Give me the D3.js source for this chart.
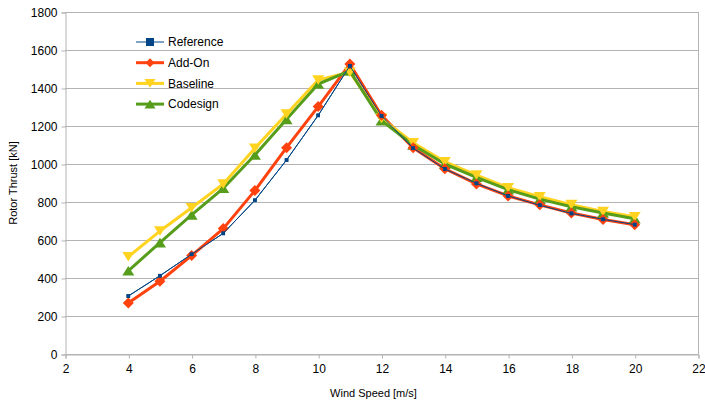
<!DOCTYPE html>
<html>
<head>
<meta charset="utf-8">
<script src="https://cdn.jsdelivr.net/npm/d3@7.9.0/dist/d3.min.js"></script>
<style>
  body { margin: 0; background: #fff; }
  svg text { font-family: "Liberation Sans", Arial, sans-serif; fill: #000; }
</style>
</head>
<body>
<svg id="chart" width="705" height="403"></svg>
<script>
// wind speeds (m/s)
const windSpeed = [4, 5, 6, 7, 8, 9, 10, 11, 12, 13, 14, 15, 16, 17, 18, 19, 20];

// rotor thrust (kN) per design
const reference = [305, 412, 525, 635, 809, 1021, 1256, 1517, 1253, 1083, 974, 898, 832, 783, 740, 709, 681];
const addOn     = [268, 383, 518, 660, 860, 1086, 1302, 1526, 1256, 1085, 975, 895, 832, 785, 742, 708, 680];
const baseline  = [512, 647, 770, 895, 1083, 1263, 1442, 1483, 1240, 1112, 1012, 942, 875, 828, 786, 750, 722];
const codesign  = [438, 586, 732, 872, 1047, 1235, 1421, 1490, 1228, 1100, 1000, 930, 865, 815, 775, 742, 712];

const xTicks = [2, 4, 6, 8, 10, 12, 14, 16, 18, 20, 22];
const yTicks = [0, 200, 400, 600, 800, 1000, 1200, 1400, 1600, 1800];

const series = [
  { name: 'Reference', values: reference, color: '#004586', width: 1, marker: 'square' },
  { name: 'Add-On', values: addOn, color: '#ff420e', width: 3, marker: 'diamond' },
  { name: 'Baseline', values: baseline, color: '#ffd320', width: 3, marker: 'down' },
  { name: 'Codesign', values: codesign, color: '#579d1c', width: 3, marker: 'up' }
];

const svg = d3.select('#chart');
const plotLeft = 65, plotRight = 698, plotTop = 12, plotBottom = 354;

const x = d3.scaleLinear().domain([2, 22]).range([plotLeft, plotRight]);
const y = d3.scaleLinear().domain([0, 1800]).range([plotBottom, plotTop]);

// gridlines
svg.append('g')
  .selectAll('line')
  .data(yTicks)
  .join('line')
  .attr('x1', plotLeft).attr('x2', plotRight)
  .attr('y1', d => y(d) + 0.5).attr('y2', d => y(d) + 0.5)
  .attr('stroke', '#b3b3b3')
  .attr('stroke-width', 1);

// right border
svg.append('line')
  .attr('x1', plotRight + 0.5).attr('x2', plotRight + 0.5)
  .attr('y1', plotTop).attr('y2', plotBottom)
  .attr('stroke', '#b3b3b3');

// axes
const xAxis = svg.append('g')
  .attr('transform', `translate(0.5,${plotBottom + 0.5})`)
  .call(d3.axisBottom(x).tickValues(xTicks).tickSize(4).tickPadding(6).tickFormat(d3.format('d')));
const yAxis = svg.append('g')
  .attr('transform', `translate(${plotLeft + 0.5},0.5)`)
  .call(d3.axisLeft(y).tickValues(yTicks).tickSize(4).tickPadding(4).tickFormat(d3.format('d')));

[xAxis, yAxis].forEach(g => {
  g.select('.domain').attr('stroke', '#b3b3b3');
  g.selectAll('.tick line').attr('stroke', '#b3b3b3');
  g.selectAll('.tick text')
    .style('font-family', '"Liberation Sans", Arial, sans-serif')
    .style('font-size', '12px')
    .attr('fill', '#000');
});

// axis titles
svg.append('text')
  .attr('x', (plotLeft + plotRight) / 2 - 8)
  .attr('y', 397)
  .attr('text-anchor', 'middle')
  .style('font-size', '11px')
  .text('Wind Speed [m/s]');

svg.append('text')
  .attr('transform', `translate(17,${(plotTop + plotBottom) / 2}) rotate(-90)`)
  .attr('text-anchor', 'middle')
  .style('font-size', '11px')
  .text('Rotor Thrust [kN]');

// marker shapes
function markerPath(type, s) {
  if (type === 'square') return `M${-s},${-s}H${s}V${s}H${-s}Z`;
  if (type === 'diamond') return `M0,${-s}L${s},0L0,${s}L${-s},0Z`;
  if (type === 'down') return `M${-s},${-s * 0.8}L${s},${-s * 0.8}L0,${s * 0.8}Z`;
  return `M${-s},${s * 0.8}L${s},${s * 0.8}L0,${-s * 0.8}Z`;
}
const markerSize = { square: 1.8, diamond: 5.5, down: 6, up: 6 };

const line = d3.line()
  .x((d, i) => x(windSpeed[i]))
  .y(d => y(d));

const plot = svg.append('g');

series.forEach(s => {
  plot.append('path')
    .datum(s.values)
    .attr('d', line)
    .attr('fill', 'none')
    .attr('stroke', s.color)
    .attr('stroke-width', s.width)
    .attr('stroke-linejoin', 'round');
});

// draw markers in reverse so reference sits on top
series.slice().reverse().forEach(s => {
  plot.append('g')
    .selectAll('path')
    .data(s.values)
    .join('path')
    .attr('transform', (d, i) => `translate(${x(windSpeed[i])},${y(d)})`)
    .attr('d', markerPath(s.marker, markerSize[s.marker]))
    .attr('fill', s.color);
});

// reference line on top
plot.append('path')
  .datum(reference)
  .attr('d', line)
  .attr('fill', 'none')
  .attr('stroke', '#004586')
  .attr('stroke-width', 1);
plot.append('g')
  .selectAll('path')
  .data(reference)
  .join('path')
  .attr('transform', (d, i) => `translate(${x(windSpeed[i])},${y(d)})`)
  .attr('d', markerPath('square', 1.8))
  .attr('fill', '#004586');

// legend
const legend = svg.append('g').attr('transform', 'translate(136,42)');
const legendMarker = { square: 4, diamond: 4.5, down: 5.5, up: 5.5 };
series.forEach((s, i) => {
  const g = legend.append('g').attr('transform', `translate(0,${i * 20.7})`);
  g.append('line')
    .attr('x1', 0).attr('x2', 28)
    .attr('stroke', s.color)
    .attr('stroke-width', s.width);
  g.append('path')
    .attr('transform', 'translate(14,0)')
    .attr('d', markerPath(s.marker, legendMarker[s.marker]))
    .attr('fill', s.color);
  g.append('text')
    .attr('x', 32)
    .attr('dy', '0.35em')
    .style('font-size', '12px')
    .text(s.name);
});
</script>
</body>
</html>
